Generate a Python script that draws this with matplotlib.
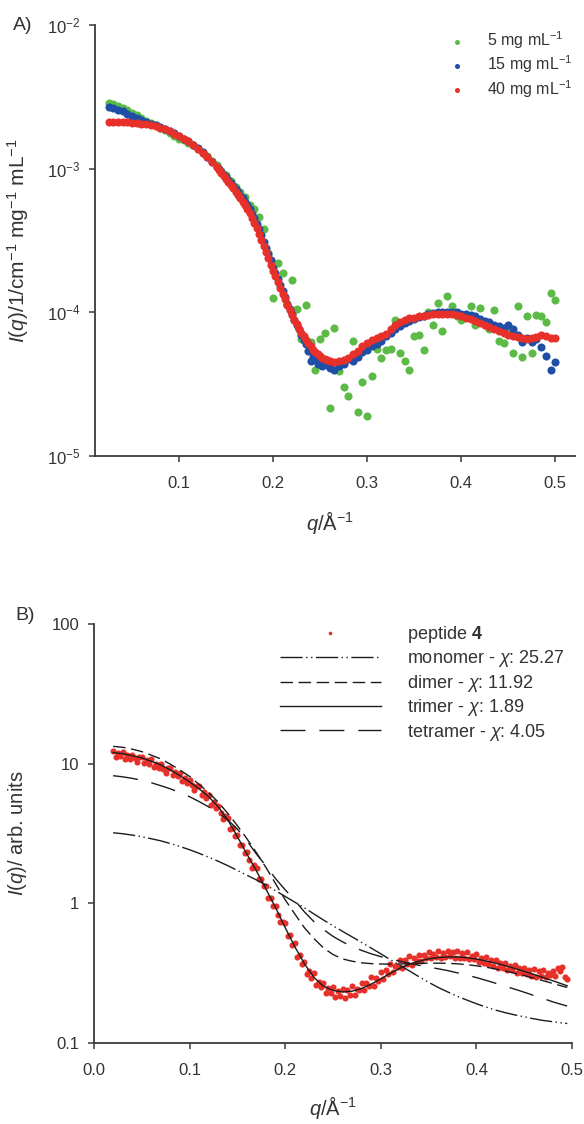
import matplotlib
matplotlib.use("Agg")
import matplotlib.pyplot as plt
import numpy as np
from matplotlib.ticker import NullLocator

plt.rcParams["font.family"] = ["Liberation Sans", "DejaVu Sans"]
plt.rcParams["mathtext.fontset"] = "custom"
plt.rcParams["mathtext.rm"] = "Liberation Sans"
plt.rcParams["mathtext.it"] = "Liberation Sans:italic"
plt.rcParams["mathtext.bf"] = "Liberation Sans:bold"
plt.rcParams["font.size"] = 12
plt.rcParams["text.color"] = "#333333"
plt.rcParams["axes.labelcolor"] = "#333333"
plt.rcParams["xtick.color"] = "#333333"
plt.rcParams["ytick.color"] = "#333333"

GREEN = "#5cbb47"
BLUE = "#1f4ea6"
RED = "#e8302a"
INK = "#1c1c1c"

# ---- panel A: concentration series (intensities in 1e-4 /cm mg^-1 mL^-1)
# 5 mg/mL curve
q_5mg = [
    0.025, 0.030, 0.035, 0.040, 0.045, 0.050, 0.055, 0.060,
    0.065, 0.070, 0.075, 0.080, 0.085, 0.090, 0.095, 0.100,
    0.105, 0.110, 0.115, 0.120, 0.125, 0.130, 0.135, 0.140,
    0.145, 0.150, 0.155, 0.160, 0.165, 0.170, 0.175, 0.180,
    0.185, 0.190, 0.195, 0.200, 0.205, 0.210, 0.215, 0.220,
    0.225, 0.230, 0.235, 0.240, 0.245, 0.250, 0.255, 0.260,
    0.265, 0.270, 0.275, 0.280, 0.285, 0.290, 0.295, 0.300,
    0.305, 0.310, 0.315, 0.320, 0.325, 0.330, 0.335, 0.340,
    0.345, 0.350, 0.355, 0.360, 0.365, 0.370, 0.375, 0.380,
    0.385, 0.390, 0.395, 0.400, 0.405, 0.410, 0.415, 0.420,
    0.425, 0.430, 0.435, 0.440, 0.445, 0.450, 0.455, 0.460,
    0.465, 0.470, 0.475, 0.480, 0.485, 0.490, 0.495, 0.500,
]
i_5mg = [
    28.5, 28.0, 27.3, 26.5, 25.5, 24.5, 23.5, 22.5,
    21.6, 20.8, 20.0, 19.2, 18.5, 17.6, 16.8, 16.2,
    15.8, 15.0, 14.5, 13.6, 12.8, 12.3, 11.3, 10.6,
    9.6, 9.0, 8.2, 7.5, 6.9, 6.4, 5.6, 5.2,
    4.6, 3.8, 2.6, 1.25, 2.2, 1.87, 1.12, 1.68,
    1.05, 0.65, 1.12, 0.62, 0.40, 0.65, 0.72, 0.215,
    0.78, 0.39, 0.30, 0.26, 0.63, 0.204, 0.33, 0.19,
    0.36, 0.56, 0.48, 0.55, 0.56, 0.89, 0.52, 0.46,
    0.40, 0.68, 0.70, 0.55, 1.01, 0.82, 1.16, 0.74,
    1.29, 1.10, 0.95, 0.88, 0.93, 1.10, 0.82, 1.08,
    0.82, 0.76, 1.04, 0.63, 0.61, 0.72, 0.52, 1.10,
    0.49, 0.95, 0.52, 0.96, 0.95, 0.86, 1.36, 1.22,
]
# 15 and 40 mg/mL curves share a finer sampling through the steep part
q_hi = [
    0.025, 0.030, 0.035, 0.040, 0.045, 0.050, 0.055, 0.060,
    0.065, 0.070, 0.075, 0.080, 0.085, 0.090, 0.095, 0.100,
    0.105, 0.110, 0.115, 0.120, 0.125, 0.130, 0.135, 0.140,
    0.1425, 0.1450, 0.1475, 0.1500, 0.1525, 0.1550, 0.1575, 0.1600,
    0.1625, 0.1650, 0.1675, 0.1700, 0.1725, 0.1750, 0.1775, 0.1800,
    0.1825, 0.1850, 0.1875, 0.1900, 0.1925, 0.1950, 0.1975, 0.2000,
    0.2025, 0.2050, 0.2075, 0.2100, 0.2125, 0.2150, 0.2175, 0.2200,
    0.2225, 0.2250, 0.2275, 0.2300, 0.2325, 0.2350, 0.2375, 0.2400,
    0.2425, 0.2450, 0.2475, 0.2500, 0.2525, 0.2550, 0.2575, 0.2600,
    0.265, 0.270, 0.275, 0.280, 0.285, 0.290, 0.295, 0.300,
    0.305, 0.310, 0.315, 0.320, 0.325, 0.330, 0.335, 0.340,
    0.345, 0.350, 0.355, 0.360, 0.365, 0.370, 0.375, 0.380,
    0.385, 0.390, 0.395, 0.400, 0.405, 0.410, 0.415, 0.420,
    0.425, 0.430, 0.435, 0.440, 0.445, 0.450, 0.455, 0.460,
    0.465, 0.470, 0.475, 0.480, 0.485, 0.490, 0.495, 0.500,
]
i_15mg = [
    27.0, 26.5, 25.8, 25.0, 24.2, 23.4, 22.6, 21.9,
    21.2, 20.6, 20.0, 19.4, 18.9, 18.3, 17.6, 16.9,
    16.2, 15.5, 14.7, 13.9, 13.0, 12.1, 11.2, 10.3,
    9.9, 9.5, 9.1, 8.7, 8.3, 7.9, 7.55, 7.2,
    6.85, 6.5, 6.2, 5.9, 5.55, 5.2, 4.85, 4.5,
    4.15, 3.8, 3.45, 3.1, 2.8, 2.55, 2.3, 2.05,
    1.88, 1.70, 1.55, 1.40, 1.27, 1.15, 1.06, 0.97,
    0.89, 0.82, 0.76, 0.70, 0.64, 0.60, 0.54, 0.46,
    0.50, 0.47, 0.44, 0.46, 0.42, 0.45, 0.43, 0.41,
    0.40, 0.42, 0.44, 0.47, 0.46, 0.49, 0.53, 0.55,
    0.58, 0.60, 0.63, 0.68, 0.72, 0.77, 0.80, 0.84,
    0.87, 0.90, 0.93, 0.95, 0.98, 0.99, 1.00, 1.00,
    1.01, 1.00, 1.01, 0.98, 0.97, 0.96, 0.95, 0.90,
    0.87, 0.85, 0.82, 0.80, 0.78, 0.82, 0.76, 0.70,
    0.62, 0.66, 0.62, 0.65, 0.57, 0.50, 0.40, 0.45,
]
i_40mg = [
    21.0, 21.0, 21.1, 21.0, 21.0, 20.9, 20.7, 20.5,
    20.3, 20.0, 19.7, 19.3, 18.8, 18.2, 17.5, 16.8,
    16.1, 15.5, 14.7, 13.8, 12.9, 12.0, 11.1, 10.2,
    9.8, 9.3, 8.9, 8.5, 8.1, 7.7, 7.3, 6.9,
    6.55, 6.2, 5.9, 5.6, 5.25, 4.9, 4.55, 4.2,
    3.85, 3.5, 3.2, 2.9, 2.65, 2.4, 2.15, 1.95,
    1.78, 1.62, 1.48, 1.35, 1.24, 1.13, 1.04, 0.96,
    0.89, 0.83, 0.77, 0.72, 0.68, 0.64, 0.61, 0.58,
    0.55, 0.53, 0.51, 0.50, 0.48, 0.47, 0.465, 0.46,
    0.45, 0.455, 0.465, 0.48, 0.51, 0.54, 0.58, 0.61,
    0.64, 0.66, 0.68, 0.71, 0.76, 0.81, 0.85, 0.88,
    0.91, 0.92, 0.94, 0.95, 0.96, 0.97, 0.98, 0.98,
    0.98, 0.97, 0.96, 0.94, 0.92, 0.90, 0.87, 0.84,
    0.82, 0.79, 0.77, 0.74, 0.72, 0.70, 0.68, 0.67,
    0.66, 0.65, 0.66, 0.67, 0.69, 0.68, 0.66, 0.66,
]
labels_a = [r"5 mg mL$^{-1}$", r"15 mg mL$^{-1}$", r"40 mg mL$^{-1}$"]

# ---- panel B: peptide 4 data and oligomer model curves (arb. units)
q_b = [
    0.0200, 0.0225, 0.0250, 0.0275, 0.0300, 0.0325, 0.0350, 0.0375,
    0.0400, 0.0425, 0.0450, 0.0475, 0.0500, 0.0525, 0.0550, 0.0575,
    0.0600, 0.0625, 0.0650, 0.0675, 0.0700, 0.0725, 0.0750, 0.0775,
    0.0800, 0.0825, 0.0850, 0.0875, 0.0900, 0.0925, 0.0950, 0.0975,
    0.1000, 0.1025, 0.1050, 0.1075, 0.1100, 0.1125, 0.1150, 0.1175,
    0.1200, 0.1225, 0.1250, 0.1275, 0.1300, 0.1325, 0.1350, 0.1375,
    0.1400, 0.1425, 0.1450, 0.1475, 0.1500, 0.1525, 0.1550, 0.1575,
    0.1600, 0.1625, 0.1650, 0.1675, 0.1700, 0.1725, 0.1750, 0.1775,
    0.1800, 0.1825, 0.1850, 0.1875, 0.1900, 0.1925, 0.1950, 0.1975,
    0.2000, 0.2025, 0.2050, 0.2075, 0.2100, 0.2125, 0.2150, 0.2175,
    0.2200, 0.2225, 0.2250, 0.2275, 0.2300, 0.2325, 0.2350, 0.2375,
    0.2400, 0.2425, 0.2450, 0.2475, 0.2500, 0.2525, 0.2550, 0.2575,
    0.2600, 0.2625, 0.2650, 0.2675, 0.2700, 0.2725, 0.2750, 0.2775,
    0.2800, 0.2825, 0.2850, 0.2875, 0.2900, 0.2925, 0.2950, 0.2975,
    0.3000, 0.3025, 0.3050, 0.3075, 0.3100, 0.3125, 0.3150, 0.3175,
    0.3200, 0.3225, 0.3250, 0.3275, 0.3300, 0.3325, 0.3350, 0.3375,
    0.3400, 0.3425, 0.3450, 0.3475, 0.3500, 0.3525, 0.3550, 0.3575,
    0.3600, 0.3625, 0.3650, 0.3675, 0.3700, 0.3725, 0.3750, 0.3775,
    0.3800, 0.3825, 0.3850, 0.3875, 0.3900, 0.3925, 0.3950, 0.3975,
    0.4000, 0.4025, 0.4050, 0.4075, 0.4100, 0.4125, 0.4150, 0.4175,
    0.4200, 0.4225, 0.4250, 0.4275, 0.4300, 0.4325, 0.4350, 0.4375,
    0.4400, 0.4425, 0.4450, 0.4475, 0.4500, 0.4525, 0.4550, 0.4575,
    0.4600, 0.4625, 0.4650, 0.4675, 0.4700, 0.4725, 0.4750, 0.4775,
    0.4800, 0.4825, 0.4850, 0.4875, 0.4900, 0.4925, 0.4950,
]
i_peptide = [
    12.4, 11.2, 11.9, 11.3, 12.2, 10.8, 11.5, 10.8,
    11.6, 10.9, 10.2, 11.2, 11.2, 10.1, 10.7, 10.0,
    10.8, 9.4, 10.0, 9.3, 9.9, 9.2, 8.6, 9.3,
    9.3, 8.3, 8.7, 8.1, 8.6, 7.5, 7.9, 7.3,
    7.7, 7.05, 6.5, 6.95, 6.9, 6.0, 6.25, 5.7,
    6.0, 5.1, 5.3, 4.8, 5.0, 4.45, 4.0, 4.2,
    4.05, 3.4, 3.45, 3.05, 3.1, 2.6, 2.6, 2.3,
    2.35, 2.05, 1.8, 1.87, 1.78, 1.5, 1.5, 1.32,
    1.34, 1.1, 1.09, 0.96, 0.96, 0.83, 0.73, 0.74,
    0.72, 0.58, 0.59, 0.50, 0.52, 0.41, 0.43, 0.37,
    0.38, 0.31, 0.33, 0.29, 0.315, 0.26, 0.275, 0.25,
    0.268, 0.229, 0.249, 0.228, 0.253, 0.213, 0.235, 0.218,
    0.242, 0.211, 0.239, 0.220, 0.255, 0.221, 0.244, 0.239,
    0.268, 0.238, 0.270, 0.256, 0.295, 0.258, 0.293, 0.280,
    0.320, 0.286, 0.333, 0.312, 0.367, 0.321, 0.356, 0.348,
    0.392, 0.347, 0.390, 0.370, 0.422, 0.364, 0.409, 0.386,
    0.430, 0.388, 0.428, 0.403, 0.448, 0.404, 0.436, 0.416,
    0.457, 0.406, 0.442, 0.412, 0.456, 0.417, 0.446, 0.406,
    0.453, 0.403, 0.440, 0.408, 0.447, 0.398, 0.423, 0.399,
    0.431, 0.379, 0.407, 0.374, 0.410, 0.370, 0.392, 0.353,
    0.391, 0.346, 0.375, 0.346, 0.377, 0.334, 0.355, 0.334,
    0.361, 0.318, 0.342, 0.315, 0.345, 0.314, 0.335, 0.303,
    0.336, 0.299, 0.327, 0.303, 0.333, 0.298, 0.319, 0.305,
    0.330, 0.300, 0.345, 0.330, 0.350, 0.295, 0.285,
]
q_fit = [
    0.02, 0.03, 0.04, 0.05, 0.06, 0.07, 0.08, 0.09, 0.10, 0.11,
    0.12, 0.13, 0.14, 0.15, 0.16, 0.17, 0.18, 0.19, 0.20, 0.21,
    0.22, 0.23, 0.24, 0.25, 0.26, 0.27, 0.28, 0.29, 0.30, 0.31,
    0.32, 0.33, 0.34, 0.35, 0.36, 0.37, 0.38, 0.39, 0.40, 0.41,
    0.42, 0.43, 0.44, 0.45, 0.46, 0.47, 0.48, 0.49, 0.495,
]
fit_monomer = [
    3.2, 3.15, 3.08, 3.0, 2.9, 2.8, 2.68, 2.55, 2.42, 2.28,
    2.14, 2.0, 1.86, 1.72, 1.59, 1.47, 1.35, 1.23, 1.12, 1.02,
    0.93, 0.84, 0.76, 0.69, 0.63, 0.575, 0.525, 0.478, 0.435, 0.395,
    0.36, 0.328, 0.298, 0.272, 0.25, 0.232, 0.216, 0.203, 0.191, 0.181,
    0.172, 0.165, 0.159, 0.154, 0.149, 0.145, 0.142, 0.139, 0.138,
]
fit_dimer = [
    13.3, 13.1, 12.7, 12.2, 11.5, 10.8, 9.9, 9.0, 8.1, 7.1,
    6.2, 5.3, 4.4, 3.6, 2.9, 2.3, 1.8, 1.38, 1.06, 0.84,
    0.67, 0.56, 0.48, 0.43, 0.40, 0.385, 0.375, 0.37, 0.368, 0.367,
    0.368, 0.37, 0.372, 0.373, 0.373, 0.372, 0.369, 0.364, 0.357, 0.349,
    0.339, 0.328, 0.316, 0.304, 0.291, 0.279, 0.267, 0.255, 0.25,
]
fit_trimer = [
    12.0, 11.8, 11.4, 11.0, 10.4, 9.8, 9.0, 8.2, 7.4, 6.6,
    5.8, 4.9, 3.95, 3.0, 2.25, 1.70, 1.26, 0.93, 0.67, 0.49,
    0.37, 0.295, 0.255, 0.238, 0.232, 0.235, 0.246, 0.264, 0.288, 0.316,
    0.343, 0.367, 0.386, 0.400, 0.409, 0.413, 0.413, 0.408, 0.399, 0.387,
    0.373, 0.358, 0.342, 0.326, 0.310, 0.294, 0.279, 0.264, 0.257,
]
fit_tetramer = [
    8.2, 8.05, 7.85, 7.6, 7.3, 6.95, 6.6, 6.2, 5.8, 5.35,
    4.9, 4.45, 3.95, 3.4, 2.8, 2.25, 1.85, 1.5, 1.25, 1.05,
    0.87, 0.74, 0.65, 0.58, 0.53, 0.49, 0.46, 0.435, 0.415, 0.40,
    0.385, 0.372, 0.36, 0.35, 0.34, 0.33, 0.318, 0.306, 0.294, 0.281,
    0.268, 0.255, 0.243, 0.231, 0.219, 0.208, 0.197, 0.188, 0.184,
]
fit_labels = [r"monomer - $\chi$: 25.27", r"dimer - $\chi$: 11.92",
              r"trimer - $\chi$: 1.89", r"tetramer - $\chi$: 4.05"]

W, H = 584, 1124


def style_axes(ax):
    for side in ("top", "right"):
        ax.spines[side].set_visible(False)
    for side in ("left", "bottom"):
        ax.spines[side].set_linewidth(1.3)
        ax.spines[side].set_color("#3a3a3a")
    ax.yaxis.set_minor_locator(NullLocator())
    ax.xaxis.set_minor_locator(NullLocator())
    ax.tick_params(axis="both", direction="out", length=4.5, width=1.1,
                   color="#3a3a3a", labelsize=12)
    ax.tick_params(axis="x", pad=10)
    ax.tick_params(axis="y", pad=6)


fig = plt.figure(figsize=(W / 100, H / 100), dpi=100)

# Panel A
ax_a = fig.add_axes([95 / W, 1 - 456 / H, 480 / W, 431 / H])
scale = 1e-4
series_a = [(q_5mg, i_5mg, GREEN), (q_hi, i_15mg, BLUE), (q_hi, i_40mg, RED)]
for (qq, vals, col), lab in zip(series_a, labels_a):
    ax_a.scatter(qq, np.array(vals) * scale, s=34, color=col,
                 linewidths=0, label=lab, zorder=2)
ax_a.set_yscale("log")
ax_a.set_ylim(1e-5, 1e-2)
ax_a.set_xlim(0.0106, 0.521)
ax_a.set_xticks([0.1, 0.2, 0.3, 0.4, 0.5], ["0.1", "0.2", "0.3", "0.4", "0.5"])
style_axes(ax_a)
ax_a.set_ylabel(r"$I(q)$/1/cm$^{-1}$ mg$^{-1}$ mL$^{-1}$", fontsize=15, va="center")
ax_a.yaxis.set_label_coords(-0.16, 0.5)
ax_a.set_xlabel(r"$q$/Å$^{-1}$", fontsize=14.5, va="center")
ax_a.xaxis.set_label_coords(0.49, -0.155)
leg_a = ax_a.legend(loc="upper left", bbox_to_anchor=(0.7375, 0.99),
                    frameon=False, fontsize=11.5, markerscale=0.62,
                    handlelength=1.0, handletextpad=1.35, labelspacing=0.16,
                    borderpad=0, borderaxespad=0, scatterpoints=1)
fig.text(13 / W, 1 - 25 / H, "A)", fontsize=14, va="center", ha="left")

# Panel B
ax_b = fig.add_axes([94 / W, 1 - 1043 / H, 478 / W, 419 / H])
ax_b.plot(q_b, i_peptide, "o", ms=4.4, color=RED, mec="none",
          label=r"peptide $\mathbf{4}$", zorder=2)
styles = [(0, (16, 2.5, 1, 2.5, 1, 2.5)), (0, (9, 4)), "-", (0, (18, 10))]
for vals, ls, lab in zip((fit_monomer, fit_dimer, fit_trimer, fit_tetramer),
                         styles, fit_labels):
    ax_b.plot(q_fit, vals, color=INK, lw=1.0, linestyle=ls, label=lab,
              zorder=4 if ls == "-" else 3)
ax_b.set_yscale("log")
ax_b.set_ylim(0.1, 100)
ax_b.set_xlim(0.0, 0.5)
ax_b.set_yticks([0.1, 1, 10, 100], ["0.1", "1", "10", "100"])
ax_b.set_xticks([0.0, 0.1, 0.2, 0.3, 0.4, 0.5],
                ["0.0", "0.1", "0.2", "0.3", "0.4", "0.5"])
style_axes(ax_b)
ax_b.set_ylabel(r"$I(q)$/ arb. units", fontsize=14.5, va="center")
ax_b.yaxis.set_label_coords(-0.159, 0.5)
ax_b.set_xlabel(r"$q$/Å$^{-1}$", fontsize=14.5, va="center")
ax_b.xaxis.set_label_coords(0.5, -0.155)
leg_b = ax_b.legend(loc="upper left", bbox_to_anchor=(0.389, 1.0),
                    frameon=False, fontsize=13, numpoints=1, markerscale=0.6,
                    handlelength=5.6, handletextpad=1.45, labelspacing=0.19,
                    borderpad=0, borderaxespad=0)
fig.text(15 / W, 1 - 616 / H, "B)", fontsize=14, va="center", ha="left")

fig.savefig("out.png", dpi=100)
